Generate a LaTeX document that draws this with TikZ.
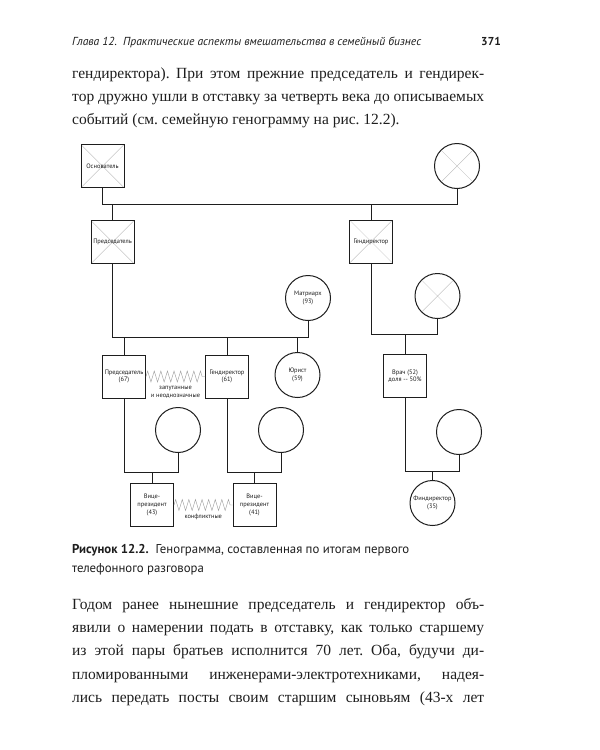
\documentclass[tikz,border=0pt]{standalone}
\usepackage{fontspec}
\setmainfont{Liberation Serif}
\newfontfamily\sansfont{PT Sans}
\usetikzlibrary{positioning, calc, decorations.pathmorphing}
\definecolor{cink}{HTML}{1E1E1E}
\definecolor{cgray}{HTML}{B4B4B4}
\definecolor{czig}{HTML}{9A9A9A}
\frenchspacing

\tikzset{
  male/.style={draw=cink, line width=1pt, minimum size=43pt, inner sep=0pt,
    font=\sansfont\fontsize{6.4}{7.6}\selectfont, text=cink, align=center},
  female/.style={male, circle, minimum size=45pt},
  dead/.style={path picture={
    \draw[cgray, line width=0.35pt]
      (path picture bounding box.north west) -- (path picture bounding box.south east)
      (path picture bounding box.north east) -- (path picture bounding box.south west);}},
  tie/.style={draw=cink, line width=1pt},
  conflict/.style={czig, line width=0.4pt, decorate,
    decoration={zigzag, segment length=6.6pt, amplitude=5.5pt}},
  note/.style={font=\sansfont\fontsize{6.4}{7.8}\selectfont, text=cink, align=center, inner sep=0pt},
  bodyline/.style={anchor=base west, inner sep=0pt, text=cink, font=\fontsize{15.5}{18}\selectfont},
  capline/.style={anchor=base west, inner sep=0pt, text=cink, font=\sansfont\fontsize{12.8}{15}\selectfont}
}

\begin{document}
\begin{tikzpicture}[x=1pt, y=-1pt]
  \useasboundingbox[fill=white] (0,0) rectangle (600,750);

  % running head
  \node[anchor=base west, inner sep=0pt, text=cink, font=\sansfont\itshape\fontsize{11.6}{13}\selectfont]
    (head) at (72,45) {Глава 12.\ \ Практические аспекты вмешательства в семейный бизнес};
  \node[anchor=base east, inner sep=0pt, text=cink, font=\sansfont\bfseries\fontsize{11.5}{13}\selectfont]
    (folio) at (501,45) {371};

  % text above the figure
  \foreach \n/\y/\txt in {1/78/{гендиректора). При этом прежние председатель и гендирек-},
                          2/101/{тор дружно ушли в отставку за четверть века до описываемых}}{
    \node[bodyline] (top\n) at (72,\y) {\makebox[412pt][s]{\txt}};
  }
  \node[bodyline] (top3) at (72,124) {событий (см. семейную генограмму на рис.~12.2).};

  % generation 1
  \node[male, dead] (fnd) at (102.5,166) {Основатель};
  \node[female, dead] (w0) at (457,166) {};
  % generation 2
  \node[male, dead] (chair0) at (112.5,242) {Председатель};
  \node[male, dead] (ceo0) at (371,241.5) {Гендиректор};
  \node[female] (matr) at (308,298) {Матриарх\\(93)};
  \node[female, dead] (w1) at (437.5,296) {};
  % generation 3
  \node[male] (chair) at (124,376.5) {Председатель\\(67)};
  \node[male] (ceo) at (227,376.5) {Гендиректор\\(61)};
  \node[female] (lawyer) at (297.5,375) {Юрист\\(59)};
  \node[male] (doc) at (405,376) {Врач (52)\\доля -- 50\%};
  \node[female] (w2) at (178,430) {};
  \node[female] (w3) at (281,430) {};
  \node[female] (w4) at (459,432) {};
  % generation 4
  \node[male] (vp1) at (152,505) {Вице-\\президент\\(43)};
  \node[male] (vp2) at (254.5,505) {Вице-\\президент\\(41)};
  \node[female] (cfo) at (432.5,503) {Финдиректор\\(35)};

  % marriage lines
  \coordinate (m0) at (0,204);
  \coordinate (m1) at (0,337);
  \coordinate (m2) at (0,334);
  \coordinate (m3) at (0,472.5);
  \coordinate (m4) at (0,471);
  \draw[tie] (fnd.south) |- (m0 -| w0.south) -- (w0.south);
  \draw[tie] (chair0.south) |- (m1 -| matr.south) -- (matr.south);
  \draw[tie] (ceo0.south) |- (m2 -| w1.south) -- (w1.south);
  \draw[tie] (chair.south) |- (m3 -| w2.south) -- (w2.south);
  \draw[tie] (ceo.south) |- (m3 -| w3.south) -- (w3.south);
  \draw[tie] (doc.south) |- (m4 -| w4.south) -- (w4.south);

  % children
  \foreach \k in {chair0, ceo0}
    \draw[tie] (\k.north) -- (\k.north |- m0);
  \foreach \k in {chair, ceo, lawyer}
    \draw[tie] (\k.north) -- (\k.north |- m1);
  \draw[tie] (doc.north) -- (doc.north |- m2);
  \foreach \k in {vp1, vp2}
    \draw[tie] (\k.north) -- (\k.north |- m3);
  \draw[tie] (cfo.north) -- (cfo.north |- m4);

  % relations
  \draw[conflict] (chair.east) -- (ceo.west);
  \node[note] (tangled) at ($(chair.east)!0.5!(ceo.west)+(0,16)$) {запутанные\\и неоднозначные};
  \draw[conflict] (vp1.east) -- (vp2.west);
  \node[note] (clash) at ($(vp1.east)!0.5!(vp2.west)+(0,12)$) {конфликтные};

  % caption
  \node[capline] (cap1) at (72,553) {\textbf{Рисунок 12.2.}\ \ Генограмма, составленная по итогам первого};
  \node[capline] (cap2) at (72,572) {телефонного разговора};

  % text below the figure
  \foreach \n/\y/\txt in {1/609/{Годом ранее нынешние председатель и гендиректор объ-},
                          2/632/{явили о намерении подать в отставку, как только старшему},
                          3/655/{из этой пары братьев исполнится 70 лет. Оба, будучи ди-},
                          4/679/{пломированными инженерами-электротехниками, надея-},
                          5/702/{лись передать посты своим старшим сыновьям (43-х лет}}{
    \node[bodyline] (low\n) at (72,\y) {\makebox[412pt][s]{\txt}};
  }
\end{tikzpicture}
\end{document}
